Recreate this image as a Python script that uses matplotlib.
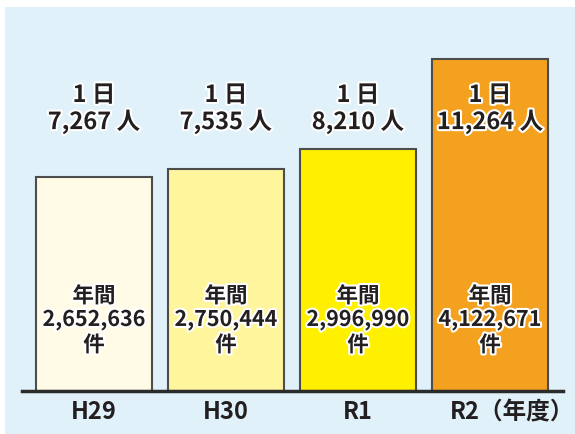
import matplotlib.pyplot as plt
import matplotlib.patheffects as pe
from matplotlib.patches import Rectangle
from matplotlib.transforms import blended_transform_factory

plt.rcParams["font.family"] = ["Noto Sans CJK JP", "DejaVu Sans"]
plt.rcParams["font.weight"] = "bold"

years = ["H29", "H30", "R1", "R2（年度）"]
daily = [7267, 7535, 8210, 11264]
daily_labels = ["7,267 人", "7,535 人", "8,210 人", "11,264 人"]
annual_labels = ["2,652,636", "2,750,444", "2,996,990", "4,122,671"]
colors = ["#fffbe6", "#fff59d", "#fff000", "#f4a11f"]

W, H = 575, 434
fig = plt.figure(figsize=(W / 100, H / 100), dpi=100)
fig.patch.set_facecolor("white")
fig.patches.append(Rectangle((5 / W, 0), 1, 1 - 7 / H, transform=fig.transFigure,
                             facecolor="#e0f1f9", edgecolor="none", zorder=-1))

base_y = 391
top_y = 59
ax = fig.add_axes([22 / W, 1 - base_y / H, (563 - 22) / W, (base_y - 7) / H])
ax.set_zorder(2)
ax.patch.set_visible(False)
x = list(range(len(years)))
ax.bar(x, daily, width=0.88, color=colors, edgecolor="#4d4d4d", linewidth=1.5, zorder=2)
ax.set_xlim(-0.545, 3.553)
ax.set_ylim(0, max(daily) * (base_y - 7) / (base_y - top_y))
for s in ["top", "right", "left"]:
    ax.spines[s].set_visible(False)
ax.spines["bottom"].set_linewidth(2.5)
ax.spines["bottom"].set_color("#2b2b2b")
ax.spines["bottom"].set_zorder(3)
ax.set_xticks([])
ax.set_yticks([])

tr = blended_transform_factory(ax.transData, fig.transFigure)
tc = "#231f20"
halo = [pe.withStroke(linewidth=3, foreground="white")]

def fy(py):
    return 1 - py / H

for i in x:
    ax.text(i, fy(95), "1 日", transform=tr, ha="center", va="center",
            fontsize=17, color=tc, path_effects=halo)
    ax.text(i, fy(122), daily_labels[i], transform=tr, ha="center", va="center",
            fontsize=17, color=tc, path_effects=halo)
    ax.text(i, fy(296), "年間", transform=tr, ha="center", va="center",
            fontsize=15.5, color=tc, path_effects=halo)
    ax.text(i, fy(320), annual_labels[i], transform=tr, ha="center", va="center",
            fontsize=15.5, color=tc, path_effects=halo)
    ax.text(i, fy(345), "件", transform=tr, ha="center", va="center",
            fontsize=15.5, color=tc, path_effects=halo)

label_x = [0, 1, 2, 3.17]
for i in x:
    ax.text(label_x[i], fy(412), years[i], transform=tr, ha="center", va="center",
            fontsize=17, color=tc)

fig.savefig("out.png", dpi=100, facecolor="white")
